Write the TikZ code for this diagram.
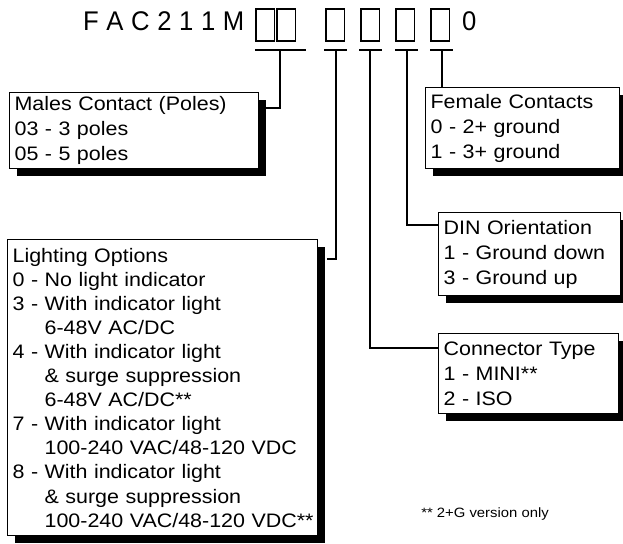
\documentclass[tikz,border=0pt]{standalone}
\usepackage{fontspec}
\setmainfont{Liberation Sans}[FakeStretch=1.1]
\newfontfamily\pnfont{Liberation Sans}[FakeStretch=0.95]
\usetikzlibrary{shadows,calc}
\begin{document}
\begin{tikzpicture}[x=1pt,y=-1pt,
  digitbox/.style={draw,line width=1.8pt,minimum width=18.5pt,minimum height=32pt,inner sep=0pt,anchor=north west},
  bar/.style={line width=2pt},
  link/.style={line width=1.6pt},
  infobox/.style={draw,line width=1.2pt,fill=white,anchor=north west,align=left,inner xsep=5pt,inner ysep=0pt,
    font=\fontsize{19.5}{25}\selectfont,
    drop shadow={shadow xshift=7pt,shadow yshift=-7pt,fill=black,opacity=1}},
  ]
\useasboundingbox (0,0) rectangle (623,543);
% part number
\node[anchor=base west,inner sep=0pt,font=\pnfont\fontsize{27}{27}\selectfont] (pn) at (83,31)
  {F\kern7.6pt A\kern7.6pt C\kern7.6pt 2\kern7.6pt 1\kern7.6pt 1\kern7.6pt M};
\node[digitbox] (b1) at (255,8) {};
\node[digitbox] (b2) at (276,8) {};
\node[digitbox] (b3) at (325,8) {};
\node[digitbox] (b4) at (360,8) {};
\node[digitbox] (b5) at (395,8) {};
\node[digitbox] (b6) at (430,8) {};
\node[anchor=base west,inner sep=0pt,font=\pnfont\fontsize{27}{27}\selectfont] (zero) at (462,31) {0};
% bars
\coordinate (c1) at (280,50);
\coordinate (c2) at (336,50);
\coordinate (c3) at (370,50);
\coordinate (c4) at (407,50);
\coordinate (c5) at (442,50);
\draw[bar] (255,50) -- (306,50);
\draw[bar] (324,50) -- (347,50);
\draw[bar] (359,50) -- (382,50);
\draw[bar] (395,50) -- (418,50);
\draw[bar] (430,50) -- (453,50);
% boxes
\node[infobox,text width=239pt,minimum height=76pt] (males) at (9,92)
  {Males Contact (Poles)\\03 - 3 poles\\05 - 5 poles};
\node[infobox,text width=184pt,minimum height=81pt] (female) at (425,87)
  {Female Contacts\\0 - 2+ ground\\1 - 3+ ground};
\node[infobox,text width=172pt,minimum height=83pt] (din) at (438,212)
  {DIN Orientation\\1 - Ground down\\3 - Ground up};
\node[infobox,text width=170pt,minimum height=80pt] (ctype) at (438,333)
  {Connector Type\\1 - MINI**\\2 - ISO};
\node[infobox,text width=300pt,minimum height=296pt,font=\fontsize{19.5}{24.1}\selectfont] (light) at (7,239)
  {Lighting Options\\
   0 - No light indicator\\
   3 - With indicator light\\
   \hspace*{32pt}6-48V AC/DC\\
   4 - With indicator light\\
   \hspace*{32pt}\& surge suppression\\
   \hspace*{32pt}6-48V AC/DC**\\
   7 - With indicator light\\
   \hspace*{32pt}100-240 VAC/48-120 VDC\\
   8 - With indicator light\\
   \hspace*{32pt}\& surge suppression\\
   \hspace*{32pt}\mbox{100-240 VAC/48-120 VDC**}};
% footnote
\node[anchor=base east,inner sep=0pt,font=\fontsize{13.5}{14}\selectfont] (note) at (549,517) {** 2+G version only};
% connectors
\coordinate (mj) at (266,108);
\coordinate (lj) at (327,259);
\draw[link] (c1) |- (mj);
\draw[link] (c2) |- (lj);
\draw[link] (c3) |- (ctype.west |- 0,348);
\draw[link] (c4) |- (din.west |- 0,225);
\draw[link] (c5) -- (female.north -| c5);
\end{tikzpicture}
\end{document}
